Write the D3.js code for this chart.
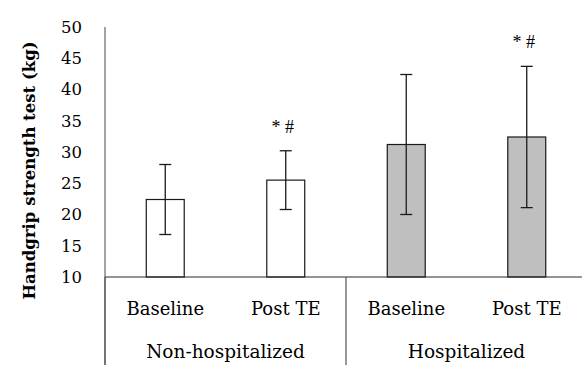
<!DOCTYPE html>
<html>
<head>
<meta charset="utf-8">
<script src="https://cdn.jsdelivr.net/npm/d3@7"></script>
<style>
  html, body { margin: 0; padding: 0; background: #fff; }
  svg { display: block; }
</style>
</head>
<body>
<svg id="chart" width="582" height="365"></svg>
<script>
// ---- data ----
const groups = ["Non-hospitalized", "Hospitalized"];
const categories = ["Baseline", "Post TE", "Baseline", "Post TE"];
const groupOf = [0, 0, 1, 1];
const means = [22.4, 25.5, 31.2, 32.4];
const errors = [5.6, 4.7, 11.2, 11.3];
const annotations = ["", "* #", "", "* #"];
const yTicks = [10, 15, 20, 25, 30, 35, 40, 45, 50];
const yTitle = "Handgrip strength test (kg)";

(function () {
// ---- layout ----
const svg = d3.select("#chart");
const pLeft = 105, pRight = 587, pTop = 27, pBase = 277, pBottom = 365;
const serif = "'DejaVu Serif', serif";

const ids = categories.map((c, i) => i);
const x = d3.scaleBand().domain(ids).range([pLeft, pRight])
  .paddingInner(0.685).paddingOuter(0.3425);
const y = d3.scaleLinear().domain([10, 50]).range([pBase, pTop]);
const fills = ["#ffffff", "#bfbfbf"];

// y axis (no tick marks)
const yAxis = d3.axisLeft(y).tickValues(yTicks).tickSize(0).tickPadding(0);
const gy = svg.append("g").attr("transform", `translate(82,0)`).call(yAxis);
gy.select(".domain").remove();
gy.selectAll("text").attr("font-family", serif).attr("font-size", 16.5)
  .attr("fill", "#000").attr("text-anchor", "end").attr("x", 0);

// vertical axis line
svg.append("line").attr("x1", pLeft).attr("x2", pLeft).attr("y1", pTop).attr("y2", pBottom)
  .attr("stroke", "#868686").attr("stroke-width", 1.5);

// bars
svg.selectAll("rect.bar").data(ids).join("rect").attr("class", "bar")
  .attr("x", i => x(i)).attr("width", x.bandwidth())
  .attr("y", i => y(means[i])).attr("height", i => y(10) - y(means[i]))
  .attr("fill", i => fills[groupOf[i]])
  .attr("stroke", "#1a1a1a").attr("stroke-width", 1.2);

// baseline
svg.append("line").attr("x1", pLeft).attr("x2", pRight).attr("y1", pBase).attr("y2", pBase)
  .attr("stroke", "#2a2a2a").attr("stroke-width", 1.2);

// group separators
const step = x.step();
[0, 2, 4].forEach(k => {
  const xx = pLeft + k * step;
  svg.append("line").attr("x1", xx).attr("x2", xx).attr("y1", pBase).attr("y2", pBottom)
    .attr("stroke", "#555").attr("stroke-width", 1.2);
});

// error bars
const cap = 6;
const cx = i => x(i) + x.bandwidth() / 2;
const eg = svg.selectAll("g.err").data(ids).join("g").attr("class", "err")
  .attr("stroke", "#1a1a1a").attr("stroke-width", 1.3);
eg.append("line")
  .attr("x1", cx).attr("x2", cx)
  .attr("y1", i => y(means[i] + errors[i])).attr("y2", i => y(means[i] - errors[i]));
eg.append("line")
  .attr("x1", i => cx(i) - cap).attr("x2", i => cx(i) + cap)
  .attr("y1", i => y(means[i] + errors[i])).attr("y2", i => y(means[i] + errors[i]));
eg.append("line")
  .attr("x1", i => cx(i) - cap).attr("x2", i => cx(i) + cap)
  .attr("y1", i => y(means[i] - errors[i])).attr("y2", i => y(means[i] - errors[i]));

// annotations
svg.selectAll("text.ann").data(ids.filter(i => annotations[i])).join("text").attr("class", "ann")
  .attr("x", i => cx(i) - 3)
  .attr("y", i => y(means[i] + errors[i]) - 18)
  .attr("text-anchor", "middle")
  .attr("font-family", "'Liberation Serif', serif").attr("font-size", 18)
  .attr("fill", "#000")
  .text(i => annotations[i]);

// category labels
svg.selectAll("text.cat").data(ids).join("text").attr("class", "cat")
  .attr("x", cx).attr("y", 315)
  .attr("text-anchor", "middle").attr("font-family", serif).attr("font-size", 18)
  .attr("fill", "#000").text(i => categories[i]);

// group labels
svg.selectAll("text.grp").data(groups).join("text").attr("class", "grp")
  .attr("x", (g, k) => pLeft + (2 * k + 1) * step).attr("y", 358)
  .attr("text-anchor", "middle").attr("font-family", serif).attr("font-size", 18.5)
  .attr("fill", "#000").text(g => g);

// y title
svg.append("text")
  .attr("transform", `translate(35,${(43 + 298) / 2}) rotate(-90)`)
  .attr("text-anchor", "middle")
  .attr("font-family", serif).attr("font-weight", "bold").attr("font-size", 16.5)
  .attr("fill", "#000").text(yTitle);
})();
</script>
</body>
</html>
